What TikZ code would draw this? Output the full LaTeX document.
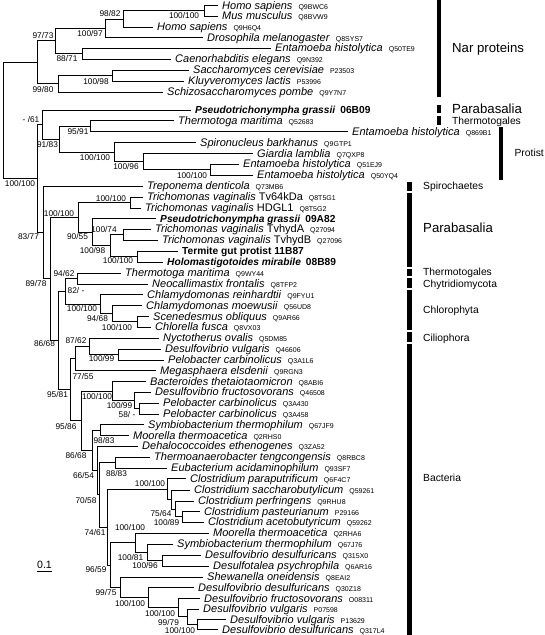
\documentclass[tikz,border=0pt]{standalone}
\usepackage{fontspec}
\setmainfont{Liberation Sans}
\newcommand{\acc}[1]{\hspace{6pt}{\fontsize{7}{8}\selectfont #1}}
\newcommand{\spn}[2]{\textit{#1}\acc{#2}}
\begin{document}
\begin{tikzpicture}[x=1pt,y=-1pt,
  br/.style={line width=0.8pt, draw=black},
  leaf/.style={anchor=west, inner xsep=4pt, inner ysep=0pt, text height=7.8pt, text depth=0pt, font=\fontsize{11}{12}\selectfont},
  bleaf/.style={leaf, font=\fontsize{10.2}{12}\selectfont\bfseries, text height=7.3pt},
  bs/.style={inner sep=0pt, text height=6pt, text depth=0pt, font=\fontsize{8.3}{9}\selectfont},
  grp/.style={anchor=west, inner sep=0pt, text height=7.4pt, text depth=0pt, font=\fontsize{10.3}{12}\selectfont},
  biggrp/.style={grp, font=\fontsize{13.2}{15}\selectfont, text height=9.5pt},
  bar/.style={fill=black}]
\useasboundingbox (0,0) rectangle (544,635);

% ---------- leaves ----------
\node[leaf] (l1) at (218,5.5) {\spn{Homo sapiens}{Q9BWC6}};
\node[leaf] (l2) at (218,16) {\spn{Mus musculus}{Q8BVW9}};
\node[leaf] (l3) at (153,27) {\spn{Homo sapiens}{Q9H6Q4}};
\node[leaf] (l4) at (203,37.5) {\spn{Drosophila melanogaster}{Q8SYS7}};
\node[leaf] (l5) at (271,48) {\spn{Entamoeba histolytica}{Q50TE9}};
\node[leaf] (l6) at (171,59) {\spn{Caenorhabditis elegans}{Q9N392}};
\node[leaf] (l7) at (189,70) {\spn{Saccharomyces cerevisiae}{P23503}};
\node[leaf] (l8) at (184,81) {\spn{Kluyveromyces lactis}{P53996}};
\node[leaf] (l9) at (163,92) {\spn{Schizosaccharomyces pombe}{Q9Y7N7}};
\node[bleaf] (l10) at (191,110) {\textit{Pseudotrichonympha grassii}\hspace{5pt}06B09};
\node[leaf] (l11) at (174,120.5) {\spn{Thermotoga maritima}{Q52683}};
\node[leaf] (l12) at (348,131.5) {\spn{Entamoeba histolytica}{Q869B1}};
\node[leaf] (l13) at (196,142.6) {\spn{Spironucleus barkhanus}{Q9GTP1}};
\node[leaf] (l14) at (253,153.3) {\spn{Giardia lamblia}{Q7QXP8}};
\node[leaf] (l15) at (239,164) {\spn{Entamoeba histolytica}{Q51EJ9}};
\node[leaf] (l16) at (253,175) {\spn{Entamoeba histolytica}{Q50YQ4}};
\node[leaf] (l17) at (143,186) {\spn{Treponema denticola}{Q73MB6}};
\node[leaf] (l18) at (143,197) {\textit{Trichomonas vaginalis} Tv64kDa\acc{Q8T5G1}};
\node[leaf] (l19) at (141,208) {\textit{Trichomonas vaginalis} HDGL1\acc{Q8T5G2}};
\node[bleaf] (l20) at (156,218.5) {\textit{Pseudotrichonympha grassii}\hspace{5pt}09A82};
\node[leaf] (l21) at (151,229) {\textit{Trichomonas vaginalis} TvhydA\acc{Q27094}};
\node[leaf] (l22) at (158,240) {\textit{Trichomonas vaginalis} TvhydB\acc{Q27096}};
\node[bleaf] (l23) at (178,251) {Termite gut protist 11B87};
\node[bleaf] (l24) at (163,262) {\textit{Holomastigotoides mirabile}\hspace{5pt}08B89};
\node[leaf] (l25) at (121,273) {\spn{Thermotoga maritima}{Q9WY44}};
\node[leaf] (l26) at (148,284) {\spn{Neocallimastix frontalis}{Q8TFP2}};
\node[leaf] (l27) at (143,294.5) {\spn{Chlamydomonas reinhardtii}{Q9FYU1}};
\node[leaf] (l28) at (142,305.5) {\spn{Chlamydomonas moewusii}{Q56UD8}};
\node[leaf] (l29) at (149,316.5) {\spn{Scenedesmus obliquus}{Q9AR66}};
\node[leaf] (l30) at (151,327) {\spn{Chlorella fusca}{Q8VX03}};
\node[leaf] (l31) at (159,338) {\spn{Nyctotherus ovalis}{Q5DM85}};
\node[leaf] (l32) at (161,349) {\spn{Desulfovibrio vulgaris}{Q46606}};
\node[leaf] (l33) at (164,360) {\spn{Pelobacter carbinolicus}{Q3A1L6}};
\node[leaf] (l34) at (156,370.5) {\spn{Megasphaera elsdenii}{Q9RGN3}};
\node[leaf] (l35) at (146,381.5) {\spn{Bacteroides thetaiotaomicron}{Q8ABI6}};
\node[leaf] (l36) at (151,392) {\spn{Desulfovibrio fructosovorans}{Q46508}};
\node[leaf] (l37) at (159,403) {\spn{Pelobacter carbinolicus}{Q3A430}};
\node[leaf] (l38) at (159,414) {\spn{Pelobacter carbinolicus}{Q3A458}};
\node[leaf] (l39) at (144,424.5) {\spn{Symbiobacterium thermophilum}{Q67JF9}};
\node[leaf] (l40) at (129,435.5) {\spn{Moorella thermoacetica}{Q2RHS0}};
\node[leaf] (l41) at (138,446) {\spn{Dehalococcoides ethenogenes}{Q3ZA52}};
\node[leaf] (l42) at (150,457) {\spn{Thermoanaerobacter tengcongensis}{Q8RBC8}};
\node[leaf] (l43) at (167,468) {\spn{Eubacterium acidaminophilum}{Q93SF7}};
\node[leaf] (l44) at (186,478.5) {\spn{Clostridium paraputrificum}{Q6F4C7}};
\node[leaf] (l45) at (190,490) {\spn{Clostridium saccharobutylicum}{Q59261}};
\node[leaf] (l46) at (194,501) {\spn{Clostridium perfringens}{Q9RHU8}};
\node[leaf] (l47) at (200,511.5) {\spn{Clostridium pasteurianum}{P29166}};
\node[leaf] (l48) at (204,522) {\spn{Clostridium acetobutyricum}{Q59262}};
\node[leaf] (l49) at (209,533) {\spn{Moorella thermoacetica}{Q2RHA6}};
\node[leaf] (l50) at (173,544) {\spn{Symbiobacterium thermophilum}{Q67J76}};
\node[leaf] (l51) at (201,555) {\spn{Desulfovibrio desulfuricans}{Q315X0}};
\node[leaf] (l52) at (209,566) {\spn{Desulfotalea psychrophila}{Q6AR16}};
\node[leaf] (l53) at (203,577) {\spn{Shewanella oneidensis}{Q8EAI2}};
\node[leaf] (l54) at (194,587.5) {\spn{Desulfovibrio desulfuricans}{Q30Z18}};
\node[leaf] (l55) at (200,598.5) {\spn{Desulfovibrio fructosovorans}{O08311}};
\node[leaf] (l56) at (199,609) {\spn{Desulfovibrio vulgaris}{P07598}};
\node[leaf] (l57) at (226,619.5) {\spn{Desulfovibrio vulgaris}{P13629}};
\node[leaf] (l58) at (218,629.8) {\spn{Desulfovibrio desulfuricans}{Q317L4}};

% ---------- internal nodes ----------
\coordinate (nHM) at (204,10.75);
\coordinate (n9882) at (123,18.9);
\coordinate (n10097) at (105,28.2);
\coordinate (n8871) at (82,53.5);
\coordinate (n9773) at (55,40.85);
\coordinate (n10098) at (112,75.5);
\coordinate (n9980) at (58,83.75);
\coordinate (nNar) at (37,62.3);
\coordinate (n9591) at (90,126);
\coordinate (nE2) at (210,169.5);
\coordinate (n10096) at (143,161.4);
\coordinate (nSpiro) at (114,152);
\coordinate (n9183) at (59,139);
\coordinate (n61) at (42,124.5);
\coordinate (nTv) at (130,202.5);
\coordinate (nTH) at (137,256.5);
\coordinate (n10074) at (123,234.5);
\coordinate (n10098b) at (110,245.5);
\coordinate (n9055) at (92,232);
\coordinate (nPara) at (78,217.25);
\coordinate (n9462) at (77,278.5);
\coordinate (nSC) at (137,321.75);
\coordinate (n9468) at (112,313.6);
\coordinate (nChl) at (100,304);
\coordinate (n82) at (65,291.25);
\coordinate (n10099a) at (118,354.5);
\coordinate (n8762) at (89,346.25);
\coordinate (n7755) at (75,358.4);
\coordinate (n58) at (139,408.5);
\coordinate (n10099b) at (134,400.25);
\coordinate (nBac) at (112,390.9);
\coordinate (n9883) at (100,430);
\coordinate (n8883) at (115,462.5);
\coordinate (n10089) at (182,516.75);
\coordinate (n7564) at (175,508.9);
\coordinate (nCA) at (171,499.4);
\coordinate (nClos) at (167,489);
\coordinate (nDD) at (162,560.5);
\coordinate (n10081) at (147,552.25);
\coordinate (nMo) at (135,542.6);
\coordinate (nDV2) at (197,624.65);
\coordinate (n9979) at (187,616.8);
\coordinate (nDF) at (178,607.65);
\coordinate (nDD2) at (148,597.6);
\coordinate (n9975) at (120,587.3);
\coordinate (n9659) at (110,565);
\coordinate (n7461) at (107,527);
\coordinate (n7058) at (99,494.75);
\coordinate (n6654) at (97,470.4);
\coordinate (n8668b) at (92,450.2);
\coordinate (n9586) at (81,420.5);
\coordinate (n9581) at (70,389.5);
\coordinate (n8668a) at (58,340.4);
\coordinate (n8978) at (50,278.8);
\coordinate (n8377) at (43,232.4);
\coordinate (nLow) at (37,178.45);
\coordinate (root) at (3,120.4);

% ---------- branches ----------
\foreach \p/\c in {root/nNar, root/nLow,
  nNar/n9773, nNar/n9980, n9773/n10097, n9773/n8871,
  n10097/n9882, n10097/l4.west, n9882/nHM, n9882/l3.west,
  nHM/l1.west, nHM/l2.west, n8871/l5.west, n8871/l6.west,
  n9980/n10098, n9980/l9.west, n10098/l7.west, n10098/l8.west,
  nLow/n61, nLow/n8377, n61/l10.west, n61/n9183,
  n9183/n9591, n9183/nSpiro, n9591/l11.west, n9591/l12.west,
  nSpiro/l13.west, nSpiro/n10096, n10096/l14.west, n10096/nE2,
  nE2/l15.west, nE2/l16.west,
  n8377/l17.west, n8377/n8978, n8978/nPara, n8978/n8668a,
  nPara/nTv, nPara/n9055, nTv/l18.west, nTv/l19.west,
  n9055/l20.west, n9055/n10098b, n10098b/n10074, n10098b/nTH,
  n10074/l21.west, n10074/l22.west, nTH/l23.west, nTH/l24.west,
  n8668a/n82, n8668a/n9581, n82/n9462, n82/nChl,
  n9462/l25.west, n9462/l26.west, nChl/l27.west, nChl/n9468,
  n9468/l28.west, n9468/nSC, nSC/l29.west, nSC/l30.west,
  n9581/n7755, n9581/n9586, n7755/n8762, n7755/l34.west,
  n8762/l31.west, n8762/n10099a, n10099a/l32.west, n10099a/l33.west,
  n9586/nBac, n9586/n8668b, nBac/l35.west, nBac/n10099b,
  n10099b/l36.west, n10099b/n58, n58/l37.west, n58/l38.west,
  n8668b/n9883, n8668b/n6654, n9883/l39.west, n9883/l40.west,
  n6654/l41.west, n6654/n7058, n7058/n8883, n7058/n7461,
  n8883/l42.west, n8883/l43.west,
  n7461/nClos, n7461/n9659, nClos/l44.west, nClos/nCA,
  nCA/l45.west, nCA/n7564, n7564/l46.west, n7564/n10089,
  n10089/l47.west, n10089/l48.west,
  n9659/nMo, n9659/n9975, nMo/l49.west, nMo/n10081,
  n10081/l50.west, n10081/nDD, nDD/l51.west, nDD/l52.west,
  n9975/l53.west, n9975/nDD2, nDD2/l54.west, nDD2/nDF,
  nDF/l55.west, nDF/n9979, n9979/l56.west, n9979/nDV2,
  nDV2/l57.west, nDV2/l58.west}
  \draw[br] (\p) |- (\c);

% ---------- bootstrap values ----------
\node[bs] (b1) at (184,15) {100/100};
\node[bs] (b2) at (110,13) {98/82};
\node[bs] (b3) at (90,33) {100/97};
\node[bs] (b4) at (67,58) {88/71};
\node[bs] (b5) at (43,35) {97/73};
\node[bs] (b6) at (96,81) {100/98};
\node[bs] (b7) at (43,89) {99/80};
\node[bs] (b8) at (31,119.5) {- /61};
\node[bs] (b9) at (78,131) {95/91};
\node[bs] (b10) at (47.5,144) {91/83};
\node[bs] (b11) at (95,157) {100/100};
\node[bs] (b12) at (126,166) {100/96};
\node[bs] (b13) at (192,175) {100/100};
\node[bs] (b14) at (20,183) {100/100};
\node[bs] (b15) at (28.5,236) {83/77};
\node[bs] (b16) at (59,213) {100/100};
\node[bs] (b17) at (111,198) {100/100};
\node[bs] (b18) at (77.5,236) {90/55};
\node[bs] (b19) at (104,229) {100/74};
\node[bs] (b20) at (92.5,250) {100/98};
\node[bs] (b21) at (118,260) {100/100};
\node[bs] (b22) at (36,283) {89/78};
\node[bs] (b23) at (64,273) {94/62};
\node[bs] (b24) at (76,290) {82/ -};
\node[bs] (b25) at (82,308) {100/100};
\node[bs] (b26) at (97.5,318) {94/68};
\node[bs] (b27) at (117,327) {100/100};
\node[bs] (b28) at (44.5,343) {86/68};
\node[bs] (b29) at (76,340) {87/62};
\node[bs] (b30) at (101.5,358) {100/99};
\node[bs] (b31) at (83,376) {77/55};
\node[bs] (b32) at (57.5,394) {95/81};
\node[bs] (b33) at (97,396) {100/100};
\node[bs] (b34) at (119.5,405) {100/99};
\node[bs] (b35) at (127,414) {58/ -};
\node[bs] (b36) at (66,426) {95/86};
\node[bs] (b37) at (104,440) {98/83};
\node[bs] (b38) at (76,455) {86/68};
\node[bs] (b39) at (83.5,475) {66/54};
\node[bs] (b40) at (116.5,473) {88/83};
\node[bs] (b41) at (86,500) {70/58};
\node[bs] (b42) at (150,483.5) {100/100};
\node[bs] (b43) at (161,513) {75/64};
\node[bs] (b44) at (166.5,522) {100/89};
\node[bs] (b45) at (95,532) {74/61};
\node[bs] (b46) at (130,527) {100/100};
\node[bs] (b47) at (130.5,557) {100/81};
\node[bs] (b48) at (145,565) {100/96};
\node[bs] (b49) at (96,569) {96/59};
\node[bs] (b50) at (106,592) {99/75};
\node[bs] (b51) at (130,603) {100/100};
\node[bs] (b52) at (160,613) {100/100};
\node[bs] (b53) at (168.5,622) {99/79};
\node[bs] (b54) at (180,630.5) {100/100};

% ---------- scale bar ----------
\coordinate (sb1) at (37,571.5);
\coordinate (sb2) at (52,571.5);
\draw[br] (sb1) -- (sb2);
\node[inner sep=0pt, text height=7.6pt, text depth=0pt, font=\fontsize{10.6}{12}\selectfont] (sbt) at (44.5,565) {0.1};

% ---------- group bars and labels ----------
\fill[bar] (437,0) rectangle (441,97);
\node[biggrp] (gNar) at (452,48) {Nar proteins};
\fill[bar] (437,105) rectangle (441,113);
\node[biggrp] (gPara1) at (452,109) {Parabasalia};
\fill[bar] (437,116) rectangle (441,125);
\node[grp] (gTher1) at (452,121) {Thermotogales};
\fill[bar] (499,127) rectangle (503,180);
\node[grp, anchor=east] (gProt) at (544,153) {Protist};
\fill[bar] (407,182) rectangle (412,191);
\node[grp] (gSpir) at (423,185.5) {Spirochaetes};
\fill[bar] (407,193) rectangle (412,267);
\node[biggrp] (gPara2) at (423,228) {Parabasalia};
\fill[bar] (407,268.5) rectangle (412,276);
\node[grp] (gTher2) at (423,272) {Thermotogales};
\fill[bar] (407,278) rectangle (412,288);
\node[grp] (gChyt) at (423,284) {Chytridiomycota};
\fill[bar] (407,290) rectangle (412,330);
\node[grp] (gChlo) at (423,310) {Chlorophyta};
\fill[bar] (407,332) rectangle (412,342);
\node[grp] (gCili) at (423,338) {Ciliophora};
\fill[bar] (407,344) rectangle (412,635);
\node[grp] (gBact) at (423,478) {Bacteria};
\end{tikzpicture}
\end{document}
